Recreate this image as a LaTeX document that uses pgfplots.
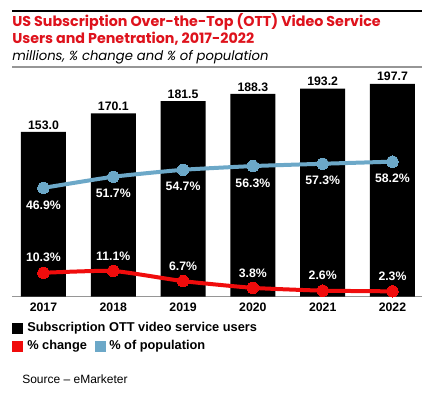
\documentclass[border=0pt]{standalone}
\usepackage{fontspec}
\setmainfont{Liberation Sans}
\newfontfamily\titlefont{Poppins}
\usepackage{pgfplots}
\pgfplotsset{compat=1.18}
\definecolor{ttred}{RGB}{222,18,28}
\definecolor{lnred}{RGB}{240,12,12}
\definecolor{lnblue}{RGB}{108,168,200}
\definecolor{rulegray}{RGB}{150,150,150}
\begin{document}
\begin{tikzpicture}
\begin{scope}[x=0.75pt,y=-0.75pt]
\path[use as bounding box] (0,0) rectangle (434,397);
\draw[black,line width=1.6pt] (12,11) -- (422,11);
\node[anchor=west,inner sep=0pt,text=ttred,font=\titlefont\bfseries\fontsize{10.7}{12}\selectfont] at (12,22) {US Subscription Over-the-Top (OTT) Video Service};
\node[anchor=west,inner sep=0pt,text=ttred,font=\titlefont\bfseries\fontsize{10.7}{12}\selectfont] at (12,38.5) {Users and Penetration, 2017-2022};
\node[anchor=west,inner sep=0pt,font=\titlefont\itshape\fontsize{9.9}{11}\selectfont] at (12,57) {millions, \% change and \% of population};
\draw[rulegray,line width=1.2pt] (12,67) -- (422,67);
% legend
\fill[black] (12,323) rectangle (23,334);
\node[anchor=west,inner sep=0pt,font=\bfseries\fontsize{9.6}{11}\selectfont] at (27,328.5) {Subscription OTT video service users};
\fill[lnred] (12,340.5) rectangle (23,351.5);
\node[anchor=west,inner sep=0pt,font=\bfseries\fontsize{9.6}{11}\selectfont] at (27,346) {\% change};
\fill[lnblue] (95,340.5) rectangle (106,351.5);
\node[anchor=west,inner sep=0pt,font=\bfseries\fontsize{9.6}{11}\selectfont] at (109,346) {\% of population};
\node[anchor=west,inner sep=0pt,font=\fontsize{9}{11}\selectfont] at (22,379) {Source -- eMarketer};
\end{scope}
\begin{axis}[
  at={(9pt,-222.5pt)}, anchor=south west,
  width=307.5pt, height=162.5pt, scale only axis,
  xmin=-0.451, xmax=5.423, ymin=0, ymax=201.2,
  axis y line=none, axis x line*=bottom,
  x axis line style={rulegray,line width=1.1pt},
  xtick={0,1,2,3,4,5},
  xticklabels={2017,2018,2019,2020,2021,2022},
  major tick length=0pt,
  xticklabel style={font=\bfseries\fontsize{9.2}{11}\selectfont, yshift=-1.5pt},
  ybar, bar width=33.75pt,
  nodes near coords={\pgfmathprintnumber[fixed,fixed zerofill,precision=1,assume math mode=true]{\pgfplotspointmeta}},
  every node near coord/.append style={font=\bfseries\fontsize{9.2}{11}\selectfont, anchor=center, yshift=5.25pt, inner sep=0pt},
  clip=false,
]
\addplot[fill=black, draw=none] coordinates {(0,153.0) (1,170.1) (2,181.5) (3,188.3) (4,193.2) (5,197.7)};
\end{axis}
\begin{axis}[
  at={(9pt,-222.5pt)}, anchor=south west,
  width=307.5pt, height=162.5pt, scale only axis,
  xmin=-0.451, xmax=5.423, ymin=0, ymax=93.4,
  hide axis, clip=false,
  nodes near coords={\pgfmathprintnumber[fixed,fixed zerofill,precision=1,assume math mode=true]{\pgfplotspointmeta}\%},
]
\addplot[lnblue, line width=3pt, smooth, tension=0.3, mark=*, mark size=4.3pt, mark options={fill=lnblue,draw=lnblue,line width=0pt},
  every node near coord/.append style={font=\bfseries\fontsize{9.2}{11}\selectfont, text=white, anchor=center, yshift=-12.75pt, inner sep=0pt}]
  coordinates {(0,46.9) (1,51.7) (2,54.7) (3,56.3) (4,57.3) (5,58.2)};
\addplot[lnred, line width=3pt, smooth, tension=0.3, mark=*, mark size=4.3pt, mark options={fill=lnred,draw=lnred,line width=0pt},
  every node near coord/.append style={font=\bfseries\fontsize{9.2}{11}\selectfont, text=white, anchor=center, yshift=11.25pt, inner sep=0pt}]
  coordinates {(0,10.3) (1,11.1) (2,6.7) (3,3.8) (4,2.6) (5,2.3)};
\end{axis}
\end{tikzpicture}
\end{document}
